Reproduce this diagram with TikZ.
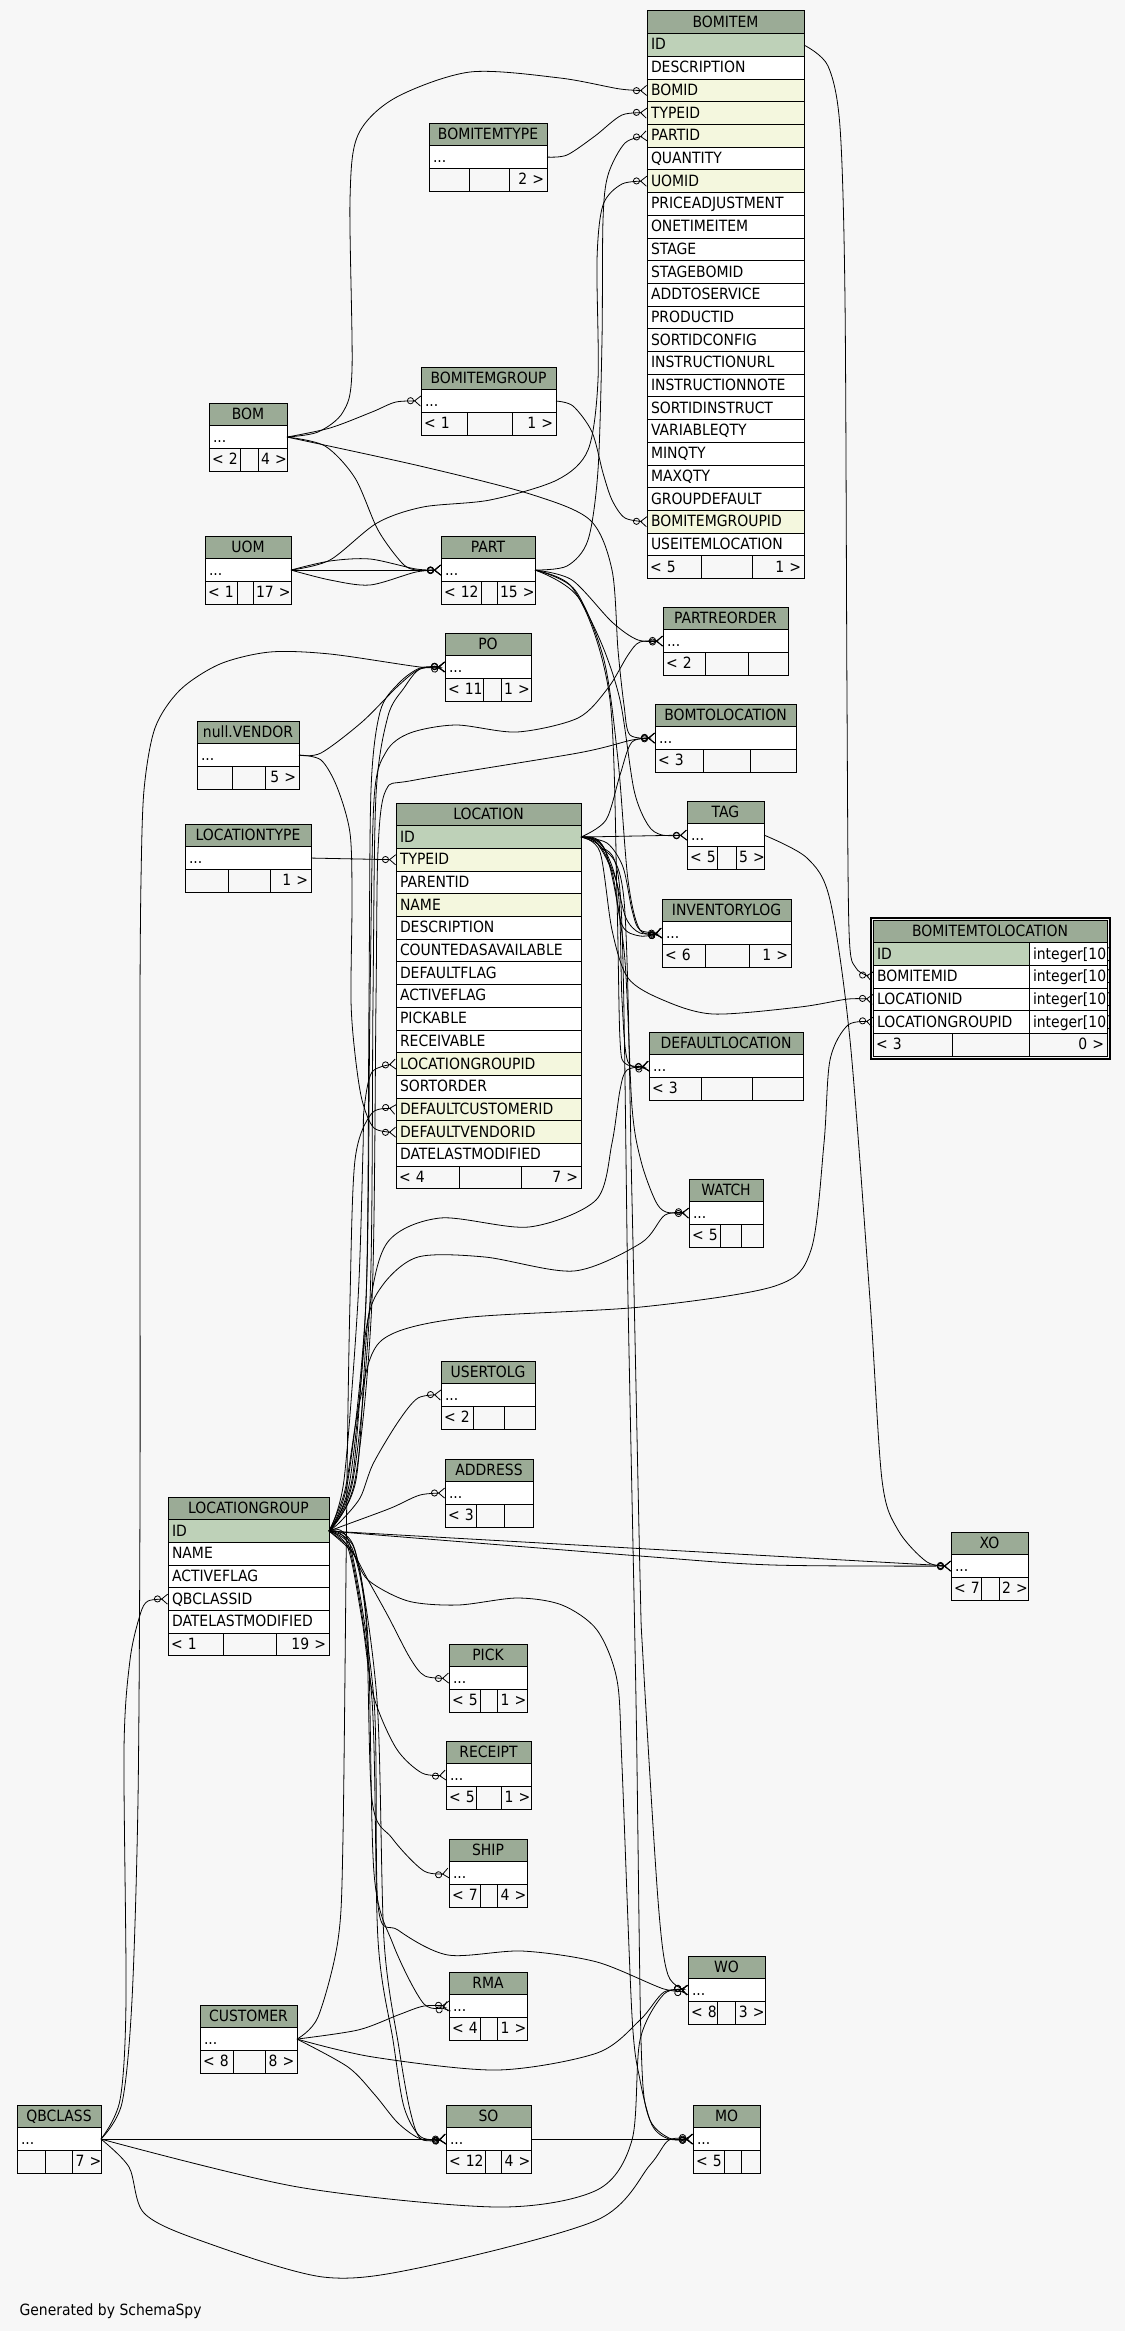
\documentclass[tikz,border=0pt]{standalone}
\usepackage{fontspec}
\usepackage{tikz}
\usepackage{xcolor}
\usetikzlibrary{arrows.meta,positioning,fit}
\newfontfamily\erfamily{DejaVu Sans}[FakeStretch=0.9]
\newcommand{\ertext}{\erfamily\fontsize{15.5pt}{18pt}\selectfont}
\definecolor{erbg}{HTML}{F7F7F7}
\definecolor{erhead}{HTML}{9BAB96}
\definecolor{erpk}{HTML}{BED1B8}
\definecolor{erfk}{HTML}{F4F7DE}
\tikzset{
  colRow/.style={draw, fill=white, line width=1pt, text width=#1, align=left, minimum height=22.7pt, text height=11.3pt, text depth=1.4pt, inner xsep=4pt, inner ysep=0pt, outer sep=0pt, font=\ertext},
  pkRow/.style={colRow=#1, fill=erpk},
  fkRow/.style={colRow=#1, fill=erfk},
  headRow/.style={colRow=#1, fill=erhead, align=center, anchor=north west},
  footCell/.style={draw, line width=1pt, text width=#1, minimum height=22.7pt, text height=11.3pt, text depth=1.4pt, inner xsep=3pt, inner ysep=0pt, outer sep=0pt, font=\ertext},
  fkLink/.style={line width=0.8pt, -{Circle[open, length=7pt, width=7pt] Straight Barb[reversed, length=6pt, width=10pt]}}
}
\newcommand{\footcells}[6]{%
  \node[footCell=#2, align=left, below right=0pt of #1.south west] (#1-f1) {#5};
  \node[footCell=#3, right=0pt of #1-f1] (#1-f2) {};
  \node[footCell=#4, align=right, right=0pt of #1-f2] (#1-f3) {#6};}

\begin{document}
\begin{tikzpicture}[x=1pt, y=-1pt]
  \useasboundingbox (0,0) rectangle (1125,2331);
  \fill[erbg] (0,0) rectangle (1125,2331);

  \node[headRow=149] (bomitem) at (647,11) {BOMITEM};
  \node[pkRow=149, below=0pt of bomitem] (bomitem-id) {ID};
  \node[colRow=149, below=0pt of bomitem-id] (bomitem-description) {DESCRIPTION};
  \node[fkRow=149, below=0pt of bomitem-description] (bomitem-bomid) {BOMID};
  \node[fkRow=149, below=0pt of bomitem-bomid] (bomitem-typeid) {TYPEID};
  \node[fkRow=149, below=0pt of bomitem-typeid] (bomitem-partid) {PARTID};
  \node[colRow=149, below=0pt of bomitem-partid] (bomitem-quantity) {QUANTITY};
  \node[fkRow=149, below=0pt of bomitem-quantity] (bomitem-uomid) {UOMID};
  \node[colRow=149, below=0pt of bomitem-uomid] (bomitem-priceadjustment) {PRICEADJUSTMENT};
  \node[colRow=149, below=0pt of bomitem-priceadjustment] (bomitem-onetimeitem) {ONETIMEITEM};
  \node[colRow=149, below=0pt of bomitem-onetimeitem] (bomitem-stage) {STAGE};
  \node[colRow=149, below=0pt of bomitem-stage] (bomitem-stagebomid) {STAGEBOMID};
  \node[colRow=149, below=0pt of bomitem-stagebomid] (bomitem-addtoservice) {ADDTOSERVICE};
  \node[colRow=149, below=0pt of bomitem-addtoservice] (bomitem-productid) {PRODUCTID};
  \node[colRow=149, below=0pt of bomitem-productid] (bomitem-sortidconfig) {SORTIDCONFIG};
  \node[colRow=149, below=0pt of bomitem-sortidconfig] (bomitem-instructionurl) {INSTRUCTIONURL};
  \node[colRow=149, below=0pt of bomitem-instructionurl] (bomitem-instructionnote) {INSTRUCTIONNOTE};
  \node[colRow=149, below=0pt of bomitem-instructionnote] (bomitem-sortidinstruct) {SORTIDINSTRUCT};
  \node[colRow=149, below=0pt of bomitem-sortidinstruct] (bomitem-variableqty) {VARIABLEQTY};
  \node[colRow=149, below=0pt of bomitem-variableqty] (bomitem-minqty) {MINQTY};
  \node[colRow=149, below=0pt of bomitem-minqty] (bomitem-maxqty) {MAXQTY};
  \node[colRow=149, below=0pt of bomitem-maxqty] (bomitem-groupdefault) {GROUPDEFAULT};
  \node[fkRow=149, below=0pt of bomitem-groupdefault] (bomitem-bomitemgroupid) {BOMITEMGROUPID};
  \node[colRow=149, below=0pt of bomitem-bomitemgroupid] (bomitem-useitemlocation) {USEITEMLOCATION};
  \footcells{bomitem-useitemlocation}{48}{45}{46}{<~5}{1~>}

  \node[headRow=110] (bomitemtype) at (429,123) {BOMITEMTYPE};
  \node[colRow=110, below=0pt of bomitemtype] (bomitemtype-cols) {...};
  \footcells{bomitemtype-cols}{34}{34}{32}{}{2~>}

  \node[headRow=127] (bomitemgroup) at (421,367) {BOMITEMGROUP};
  \node[colRow=127, below=0pt of bomitemgroup] (bomitemgroup-cols) {...};
  \footcells{bomitemgroup-cols}{40}{39}{38}{<~1}{1~>}

  \node[headRow=70] (bom) at (209,403) {BOM};
  \node[colRow=70, below=0pt of bom] (bom-cols) {...};
  \footcells{bom-cols}{25}{12}{23}{<~2}{4~>}

  \node[headRow=78] (uom) at (205,536) {UOM};
  \node[colRow=78, below=0pt of uom] (uom-cols) {...};
  \footcells{uom-cols}{26}{10}{32}{<~1}{17~>}

  \node[headRow=86] (part) at (441,536) {PART};
  \node[colRow=86, below=0pt of part] (part-cols) {...};
  \footcells{part-cols}{34}{10}{32}{<~12}{15~>}

  \node[headRow=117] (partreorder) at (663,607) {PARTREORDER};
  \node[colRow=117, below=0pt of partreorder] (partreorder-cols) {...};
  \footcells{partreorder-cols}{36}{37}{34}{<~2}{}

  \node[headRow=78] (po) at (445,633) {PO};
  \node[colRow=78, below=0pt of po] (po-cols) {...};
  \footcells{po-cols}{32}{12}{24}{<~11}{1~>}

  \node[headRow=94] (vendor) at (197,721) {null.VENDOR};
  \node[colRow=94, below=0pt of vendor] (vendor-cols) {...};
  \footcells{vendor-cols}{29}{27}{28}{}{5~>}

  \node[headRow=133] (bomtolocation) at (655,704) {BOMTOLOCATION};
  \node[colRow=133, below=0pt of bomtolocation] (bomtolocation-cols) {...};
  \footcells{bomtolocation-cols}{42.5}{40.5}{40}{<~3}{}

  \node[headRow=118] (locationtype) at (185,824) {LOCATIONTYPE};
  \node[colRow=118, below=0pt of locationtype] (locationtype-cols) {...};
  \footcells{locationtype-cols}{37}{36}{35}{}{1~>}

  \node[headRow=177] (location) at (396,803) {LOCATION};
  \node[pkRow=177, below=0pt of location] (location-id) {ID};
  \node[fkRow=177, below=0pt of location-id] (location-typeid) {TYPEID};
  \node[colRow=177, below=0pt of location-typeid] (location-parentid) {PARENTID};
  \node[fkRow=177, below=0pt of location-parentid] (location-name) {NAME};
  \node[colRow=177, below=0pt of location-name] (location-description) {DESCRIPTION};
  \node[colRow=177, below=0pt of location-description] (location-countedasavailable) {COUNTEDASAVAILABLE};
  \node[colRow=177, below=0pt of location-countedasavailable] (location-defaultflag) {DEFAULTFLAG};
  \node[colRow=177, below=0pt of location-defaultflag] (location-activeflag) {ACTIVEFLAG};
  \node[colRow=177, below=0pt of location-activeflag] (location-pickable) {PICKABLE};
  \node[colRow=177, below=0pt of location-pickable] (location-receivable) {RECEIVABLE};
  \node[fkRow=177, below=0pt of location-receivable] (location-locationgroupid) {LOCATIONGROUPID};
  \node[colRow=177, below=0pt of location-locationgroupid] (location-sortorder) {SORTORDER};
  \node[fkRow=177, below=0pt of location-sortorder] (location-defaultcustomerid) {DEFAULTCUSTOMERID};
  \node[fkRow=177, below=0pt of location-defaultcustomerid] (location-defaultvendorid) {DEFAULTVENDORID};
  \node[colRow=177, below=0pt of location-defaultvendorid] (location-datelastmodified) {DATELASTMODIFIED};
  \footcells{location-datelastmodified}{57}{56}{54}{<~4}{7~>}

  \node[headRow=69] (tag) at (687,801) {TAG};
  \node[colRow=69, below=0pt of tag] (tag-cols) {...};
  \footcells{tag-cols}{24}{13}{22}{<~5}{5~>}

  \node[headRow=121] (inventorylog) at (662,899) {INVENTORYLOG};
  \node[colRow=121, below=0pt of inventorylog] (inventorylog-cols) {...};
  \footcells{inventorylog-cols}{37}{38}{36}{<~6}{1~>}

  \node[headRow=226] (bomitemtolocation) at (873,920) {BOMITEMTOLOCATION};
  \node[pkRow=148, below right=0pt of bomitemtolocation.south west] (bomitemtolocation-id) {ID};
  \node[colRow=70, right=0pt of bomitemtolocation-id] (bomitemtolocation-idtype) {integer[10]};
  \node[colRow=148, below=0pt of bomitemtolocation-id] (bomitemtolocation-bomitemid) {BOMITEMID};
  \node[colRow=70, right=0pt of bomitemtolocation-bomitemid] (bomitemtolocation-bomitemidtype) {integer[10]};
  \node[colRow=148, below=0pt of bomitemtolocation-bomitemid] (bomitemtolocation-locationid) {LOCATIONID};
  \node[colRow=70, right=0pt of bomitemtolocation-locationid] (bomitemtolocation-locationidtype) {integer[10]};
  \node[colRow=148, below=0pt of bomitemtolocation-locationid] (bomitemtolocation-locationgroupid) {LOCATIONGROUPID};
  \node[colRow=70, right=0pt of bomitemtolocation-locationgroupid] (bomitemtolocation-locationgroupidtype) {integer[10]};
  \footcells{bomitemtolocation-locationgroupid}{73}{71}{72}{<~3}{0~>}
  \node[draw, line width=2pt, inner sep=2.5pt, fit=(bomitemtolocation) (bomitemtolocation-locationgroupid-f3)] (bomitemtolocation-frame) {};

  \node[headRow=146] (defaultlocation) at (649,1032) {DEFAULTLOCATION};
  \node[colRow=146, below=0pt of defaultlocation] (defaultlocation-cols) {...};
  \footcells{defaultlocation-cols}{46}{45}{45}{<~3}{}

  \node[headRow=66] (watch) at (689,1179) {WATCH};
  \node[colRow=66, below=0pt of watch] (watch-cols) {...};
  \footcells{watch-cols}{25.5}{15}{15.5}{<~5}{}

  \node[headRow=86] (usertolg) at (441,1361) {USERTOLG};
  \node[colRow=86, below=0pt of usertolg] (usertolg-cols) {...};
  \footcells{usertolg-cols}{26}{25.5}{24.5}{<~2}{}

  \node[headRow=80] (address) at (445,1459) {ADDRESS};
  \node[colRow=80, below=0pt of address] (address-cols) {...};
  \footcells{address-cols}{25}{22.5}{22.5}{<~3}{}

  \node[headRow=153] (locationgroup) at (168,1497) {LOCATIONGROUP};
  \node[pkRow=153, below=0pt of locationgroup] (locationgroup-id) {ID};
  \node[colRow=153, below=0pt of locationgroup-id] (locationgroup-name) {NAME};
  \node[colRow=153, below=0pt of locationgroup-name] (locationgroup-activeflag) {ACTIVEFLAG};
  \node[colRow=153, below=0pt of locationgroup-activeflag] (locationgroup-qbclassid) {QBCLASSID};
  \node[colRow=153, below=0pt of locationgroup-qbclassid] (locationgroup-datelastmodified) {DATELASTMODIFIED};
  \footcells{locationgroup-datelastmodified}{49.5}{47}{46.5}{<~1}{19~>}

  \node[headRow=69] (xo) at (951,1532) {XO};
  \node[colRow=69, below=0pt of xo] (xo-cols) {...};
  \footcells{xo-cols}{24}{12}{23}{<~7}{2~>}

  \node[headRow=70] (pick) at (449,1644) {PICK};
  \node[colRow=70, below=0pt of pick] (pick-cols) {...};
  \footcells{pick-cols}{25.6}{10.9}{23.5}{<~5}{1~>}

  \node[headRow=77] (receipt) at (446,1741) {RECEIPT};
  \node[colRow=77, below=0pt of receipt] (receipt-cols) {...};
  \footcells{receipt-cols}{24.6}{18.9}{23.5}{<~5}{1~>}

  \node[headRow=70] (ship) at (449,1839) {SHIP};
  \node[colRow=70, below=0pt of ship] (ship-cols) {...};
  \footcells{ship-cols}{25.6}{10.9}{23.5}{<~7}{4~>}

  \node[headRow=70] (rma) at (449,1972) {RMA};
  \node[colRow=70, below=0pt of rma] (rma-cols) {...};
  \footcells{rma-cols}{25.6}{10.9}{23.5}{<~4}{1~>}

  \node[headRow=69] (wo) at (688,1956) {WO};
  \node[colRow=69, below=0pt of wo] (wo-cols) {...};
  \footcells{wo-cols}{23.4}{12.4}{23.2}{<~8}{3~>}

  \node[headRow=89] (customer) at (200,2005) {CUSTOMER};
  \node[colRow=89, below=0pt of customer] (customer-cols) {...};
  \footcells{customer-cols}{27.3}{26.4}{25.3}{<~8}{8~>}

  \node[headRow=76] (qbclass) at (17,2105) {QBCLASS};
  \node[colRow=76, below=0pt of qbclass] (qbclass-cols) {...};
  \footcells{qbclass-cols}{22.3}{21.3}{22.4}{}{7~>}

  \node[headRow=77] (so) at (446,2105) {SO};
  \node[colRow=77, below=0pt of so] (so-cols) {...};
  \footcells{so-cols}{33}{10.5}{23.5}{<~12}{4~>}

  \node[headRow=59] (mo) at (693,2105) {MO};
  \node[colRow=59, below=0pt of mo] (mo-cols) {...};
  \footcells{mo-cols}{25.4}{11.4}{12.2}{<~5}{}

  \node[font=\ertext, anchor=base west] (credit) at (16,2315) {Generated by SchemaSpy};

  \draw[fkLink] plot[smooth] coordinates {(bom-cols.east) (318,432) (343,412) (352,370) (350,200) (358,135) (395,98) (470,72) (560,78) (620,89) (bomitem-bomid.west)};
  \draw[fkLink] plot[smooth] coordinates {(bomitemtype-cols.east) (567,155) (595,136) (622,115) (bomitem-typeid.west)};
  \draw[fkLink] plot[smooth] coordinates {(part-cols.east) (567,566) (588,540) (598,470) (602,340) (603,220) (608,175) (625,143) (bomitem-partid.west)};
  \draw[fkLink] plot[smooth] coordinates {(uom-cols.east) (330,560) (377,523) (423,507) (490,500) (557,480) (588,450) (598,380) (597,260) (603,205) (622,184) (bomitem-uomid.west)};
  \draw[fkLink] plot[smooth] coordinates {(bomitemgroup-cols.east) (573,406) (592,432) (603,473) (612,500) (625,518) (bomitem-bomitemgroupid.west)};
  \draw[fkLink] plot[smooth] coordinates {(bomitem-id.east) (828,66) (840,127) (845,300) (847,700) (849,930) (856,968) (bomitemtolocation-bomitemid.west)};
  \draw[fkLink] plot[smooth] coordinates {(location-id.east) (600,852) (612,930) (628,978) (663,1000) (713,1014) (800,1007) (848,999) (bomitemtolocation-locationid.west)};
  \draw[fkLink] plot[smooth] coordinates {(locationgroup-id.east) (345,1490) (360,1400) (382,1340) (462,1318) (641,1307) (775,1286) (811,1250) (824,1143) (830,1060) (848,1025) (bomitemtolocation-locationgroupid.west)};

  \draw[fkLink] plot[smooth] coordinates {(bom-cols.east) (330,428) (372,412) (396,402) (bomitemgroup-cols.west)};
  \draw[fkLink] plot[smooth] coordinates {(bom-cols.east) (325,446) (355,478) (378,530) (402,563) (416,570) (part-cols.west)};
  \draw[fkLink] plot[smooth] coordinates {(bom-cols.east) (420,466) (530,494) (590,520) (612,570) (618,650) (624,705) (630,735) (bomtolocation-cols.west)};
  \draw[fkLink] plot[smooth] coordinates {(uom-cols.east) (330,561) (370,559) (416,569) (part-cols.west)};
  \draw[fkLink] (uom-cols.east) -- (part-cols.west);
  \draw[fkLink] plot[smooth] coordinates {(uom-cols.east) (330,580) (370,585) (416,572) (part-cols.west)};

  \draw[fkLink] plot[smooth] coordinates {(part-cols.east) (572,580) (612,622) (638,640) (partreorder-cols.west)};
  \draw[fkLink] plot[smooth] coordinates {(locationgroup-id.east) (348,1480) (366,1300) (370,1000) (374,800) (386,752) (410,733) (456,725) (517,732) (578,718) (608,688) (628,655) (640,642) (partreorder-cols.west)};
  \draw[fkLink] plot[smooth] coordinates {(vendor-cols.east) (321,753) (362,722) (398,686) (420,669) (po-cols.west)};
  \draw[fkLink] plot[smooth] coordinates {(qbclass-cols.east) (122,2103) (132,2000) (138,1800) (140,1500) (140,1200) (140,1000) (141,880) (144,790) (155,728) (180,690) (220,664) (270,652) (330,654) (420,667) (po-cols.west)};
  \draw[fkLink] plot[smooth] coordinates {(locationgroup-id.east) (350,1480) (366,1300) (369,1000) (371,790) (380,712) (398,684) (420,668) (po-cols.west)};
  \draw[fkLink] plot[smooth] coordinates {(locationgroup-id.east) (353,1480) (370,1300) (373,1000) (376,795) (388,716) (404,688) (420,669) (po-cols.west)};

  \draw[fkLink] plot[smooth] coordinates {(locationgroup-id.east) (344,1480) (358,1300) (363,1150) (364,1110) (372,1072) (location-locationgroupid.west)};
  \draw[fkLink] (locationtype-cols.east) -- (location-typeid.west);
  \draw[fkLink] plot[smooth] coordinates {(vendor-cols.east) (321,760) (337,787) (350,833) (352,900) (351,1000) (355,1054) (362,1100) (374,1128) (location-defaultvendorid.west)};
  \draw[fkLink] plot[smooth] coordinates {(customer-cols.east) (318,2017) (338,1940) (343,1837) (347,1480) (350,1300) (355,1160) (372,1113) (location-defaultcustomerid.west)};

  \draw[fkLink] plot[smooth] coordinates {(location-id.east) (606,820) (620,775) (632,742) (bomtolocation-cols.west)};
  \draw[fkLink] plot[smooth] coordinates {(locationgroup-id.east) (355,1480) (372,1300) (376,1000) (378,850) (386,790) (415,780) (578,753) (632,740) (bomtolocation-cols.west)};
  \draw[fkLink] (location-id.east) -- (tag-cols.west);
  \draw[fkLink] plot[smooth] coordinates {(part-cols.east) (570,585) (600,640) (620,700) (634,790) (648,825) (662,835) (tag-cols.west)};
  \draw[fkLink] plot[smooth] coordinates {(location-id.east) (607,843) (623,867) (632,910) (640,930) (inventorylog-cols.west)};
  \draw[fkLink] plot[smooth] coordinates {(location-id.east) (600,846) (615,877) (626,918) (640,933) (inventorylog-cols.west)};
  \draw[fkLink] plot[smooth] coordinates {(location-id.east) (596,842) (612,872) (622,925) (640,936) (inventorylog-cols.west)};
  \draw[fkLink] plot[smooth] coordinates {(part-cols.east) (575,590) (604,660) (618,760) (628,880) (640,930) (inventorylog-cols.west)};
  \draw[fkLink] plot[smooth] coordinates {(location-id.east) (600,842) (618,890) (622,1000) (628,1062) (defaultlocation-cols.west)};
  \draw[fkLink] plot[smooth] coordinates {(locationgroup-id.east) (356,1480) (368,1320) (387,1243) (440,1218) (529,1227) (596,1200) (612,1143) (620,1090) (627,1070) (defaultlocation-cols.west)};
  \draw[fkLink] plot[smooth] coordinates {(part-cols.east) (580,600) (610,700) (617,900) (620,1040) (626,1064) (defaultlocation-cols.west)};
  \draw[fkLink] plot[smooth] coordinates {(locationgroup-id.east) (352,1480) (366,1330) (382,1286) (418,1257) (485,1257) (574,1271) (641,1243) (665,1215) (watch-cols.west)};
  \draw[fkLink] plot[smooth] coordinates {(location-id.east) (605,850) (624,950) (632,1107) (641,1161) (655,1200) (666,1212) (watch-cols.west)};
  \draw[fkLink] plot[smooth] coordinates {(tag-cols.east) (807,858) (830,900) (850,1040) (870,1300) (882,1480) (898,1530) (927,1562) (xo-cols.west)};

  \draw[fkLink] (locationgroup-id.east) -- (xo-cols.west);
  \draw[fkLink] plot[smooth] coordinates {(locationgroup-id.east) (640,1556) (773,1565) (xo-cols.west)};
  \draw[fkLink] plot[smooth] coordinates {(locationgroup-id.east) (340,1522) (360,1498) (373,1464) (398,1422) (418,1398) (usertolg-cols.west)};
  \draw[fkLink] plot[smooth] coordinates {(locationgroup-id.east) (348,1524) (391,1508) (420,1495) (address-cols.west)};
  \draw[fkLink] plot[smooth] coordinates {(locationgroup-id.east) (350,1548) (368,1580) (388,1616) (410,1658) (425,1676) (pick-cols.west)};
  \draw[fkLink] plot[smooth] coordinates {(locationgroup-id.east) (348,1548) (362,1620) (373,1694) (396,1748) (422,1773) (receipt-cols.west)};
  \draw[fkLink] plot[smooth] coordinates {(locationgroup-id.east) (352,1548) (366,1620) (372,1800) (392,1838) (424,1871) (ship-cols.west)};
  \draw[fkLink] plot[smooth] coordinates {(locationgroup-id.east) (354,1548) (368,1640) (374,1873) (393,1944) (424,2004) (rma-cols.west)};
  \draw[fkLink] plot[smooth] coordinates {(locationgroup-id.east) (350,1550) (372,1700) (378,1940) (393,2040) (404,2107) (421,2137) (so-cols.west)};
  \draw[fkLink] plot[smooth] coordinates {(locationgroup-id.east) (355,1550) (377,1700) (384,1940) (399,2048) (410,2110) (421,2139) (so-cols.west)};
  \draw[fkLink] plot[smooth] coordinates {(locationgroup-id.east) (350,1545) (374,1700) (378,1905) (398,1930) (448,1955) (522,1951) (597,1962) (664,1989) (wo-cols.west)};
  \draw[fkLink] plot[smooth] coordinates {(locationgroup-id.east) (352,1552) (368,1580) (408,1601) (458,1605) (517,1598) (562,1605) (597,1630) (617,1680) (622,1766) (632,2016) (640,2080) (652,2125) (669,2139) (mo-cols.west)};

  \draw[fkLink] plot[smooth] coordinates {(customer-cols.east) (358,2030) (398,2015) (424,2006) (rma-cols.west)};
  \draw[fkLink] plot[smooth] coordinates {(customer-cols.east) (348,2067) (375,2095) (398,2123) (421,2139) (so-cols.west)};
  \draw[fkLink] plot[smooth] coordinates {(customer-cols.east) (373,2057) (497,2070) (597,2053) (640,2020) (664,1992) (wo-cols.west)};
  \draw[fkLink] (qbclass-cols.east) -- (so-cols.west);
  \draw[fkLink] plot[smooth] coordinates {(qbclass-cols.east) (298,2187) (497,2207) (597,2190) (632,2140) (640,2040) (664,1994) (wo-cols.west)};
  \draw[fkLink] plot[smooth] coordinates {(qbclass-cols.east) (129,2167) (144,2213) (199,2240) (323,2277) (423,2267) (597,2220) (650,2165) (669,2140) (mo-cols.west)};
  \draw[fkLink] plot[smooth] coordinates {(qbclass-cols.east) (120,2100) (126,2000) (124,1750) (130,1660) (140,1615) (148,1601) (locationgroup-qbclassid.west)};
  \draw[fkLink] (so-cols.east) -- (mo-cols.west);
  \draw[fkLink] plot[smooth] coordinates {(location-id.east) (600,846) (624,900) (632,1200) (640,1576) (643,1658) (658,1900) (668,1975) (wo-cols.west)};
  \draw[fkLink] plot[smooth] coordinates {(location-id.east) (602,846) (621,905) (628,1300) (636,1700) (641,2040) (648,2115) (669,2138) (mo-cols.west)};
\end{tikzpicture}
\end{document}
